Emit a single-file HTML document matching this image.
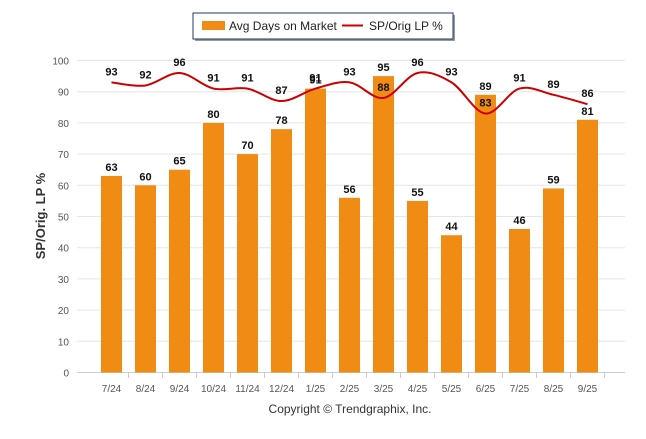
<!DOCTYPE html>
<html><head><meta charset="utf-8"><style>
body{margin:0;background:#fff;font-family:"Liberation Sans",Arial,sans-serif}
svg text{font-family:"Liberation Sans",Arial,sans-serif}
</style></head><body>
<svg id="c" width="646" height="434" viewBox="0 0 646 434">
<g id="grid"></g><g id="bars"></g><g id="line"></g><g id="labels"></g>
<text x="45" y="216" transform="rotate(-90 45 216)" text-anchor="middle" font-size="13" font-weight="bold" fill="#333">SP/Orig. LP %</text>
<text x="350" y="413" text-anchor="middle" font-size="12" fill="#333">Copyright © Trendgraphix, Inc.</text>
<g>
<rect x="195" y="15" width="260" height="26" fill="#999"/>
<rect x="193" y="13" width="260" height="26" fill="#fff" stroke="#1f3864" stroke-width="1"/>
<rect x="202" y="21" width="23" height="9" fill="#f08c14"/>
<text x="229" y="30" font-size="12" fill="#222">Avg Days on Market</text>
<line x1="342" y1="25.5" x2="363" y2="25.5" stroke="#cc0000" stroke-width="2"/>
<text x="369" y="30" font-size="12" fill="#222">SP/Orig LP %</text>
</g>
</svg>
<script>
const categories=["7/24","8/24","9/24","10/24","11/24","12/24","1/25","2/25","3/25","4/25","5/25","6/25","7/25","8/25","9/25"];
const daysOnMarket=[63,60,65,80,70,78,91,56,95,55,44,89,46,59,81];
const spOrigLp=[93,92,96,91,91,87,91,93,88,96,93,83,91,89,86];
const yTicks=[0,10,20,30,40,50,60,70,80,90,100];
const NS="http://www.w3.org/2000/svg";
const y=v=>372.5-v*3.12;
const x=i=>111.5+i*34;
function mk(t,a,p){const e=document.createElementNS(NS,t);for(const k in a)e.setAttribute(k,a[k]);p.appendChild(e);return e;}
const G=document.getElementById('grid'),B=document.getElementById('bars'),L=document.getElementById('line'),T=document.getElementById('labels');
yTicks.forEach(v=>{
 const l=mk('line',{x1:77,x2:625,y1:y(v),y2:y(v),stroke:v===0?'#ccc':'#e6e6e6','stroke-width':1},G);
 
 
 const t=mk('text',{x:69,y:y(v)+4,'text-anchor':'end','font-size':10,fill:'#555'},G);t.textContent=v;
 
 
});
categories.forEach((c,i)=>{
 const t=mk('text',{x:x(i),y:392,'text-anchor':'middle','font-size':10,fill:'#555'},G);t.textContent=c;
 
 
 const tk=mk('line',{x1:x(i)+17,x2:x(i)+17,y1:373,y2:378,stroke:'#ccc'},G);
 
 
 const v=daysOnMarket[i];
 const r=mk('rect',{x:x(i)-10.5,y:y(v),width:21,height:y(0)-y(v),fill:'#f08c14'},B);
 
 
 const bl=mk('text',{x:x(i),y:y(v)-5,'text-anchor':'middle','font-size':11,'font-weight':'bold',fill:'#111'},T);bl.textContent=v;
 
 
 const sv=spOrigLp[i];
 const ll=mk('text',{x:x(i),y:y(sv)-7,'text-anchor':'middle','font-size':11,'font-weight':'bold',fill:'#111'},T);ll.textContent=sv;
 
 
});
const pts=spOrigLp.map((v,i)=>[x(i),y(v)]);
let d='M'+pts[0][0]+','+pts[0][1];
for(let i=0;i<pts.length-1;i++){
 const p0=pts[i-1]||pts[i],p1=pts[i],p2=pts[i+1],p3=pts[i+2]||p2;
 const c1=[p1[0]+(p2[0]-p0[0])/6,p1[1]+(p2[1]-p0[1])/6],c2=[p2[0]-(p3[0]-p1[0])/6,p2[1]-(p3[1]-p1[1])/6];
 d+=` C${c1[0]},${c1[1]} ${c2[0]},${c2[1]} ${p2[0]},${p2[1]}`;
}
const pl=mk('path',{d:d,fill:'none',stroke:'#cc0000','stroke-width':2},L);


</script>
</body></html>
